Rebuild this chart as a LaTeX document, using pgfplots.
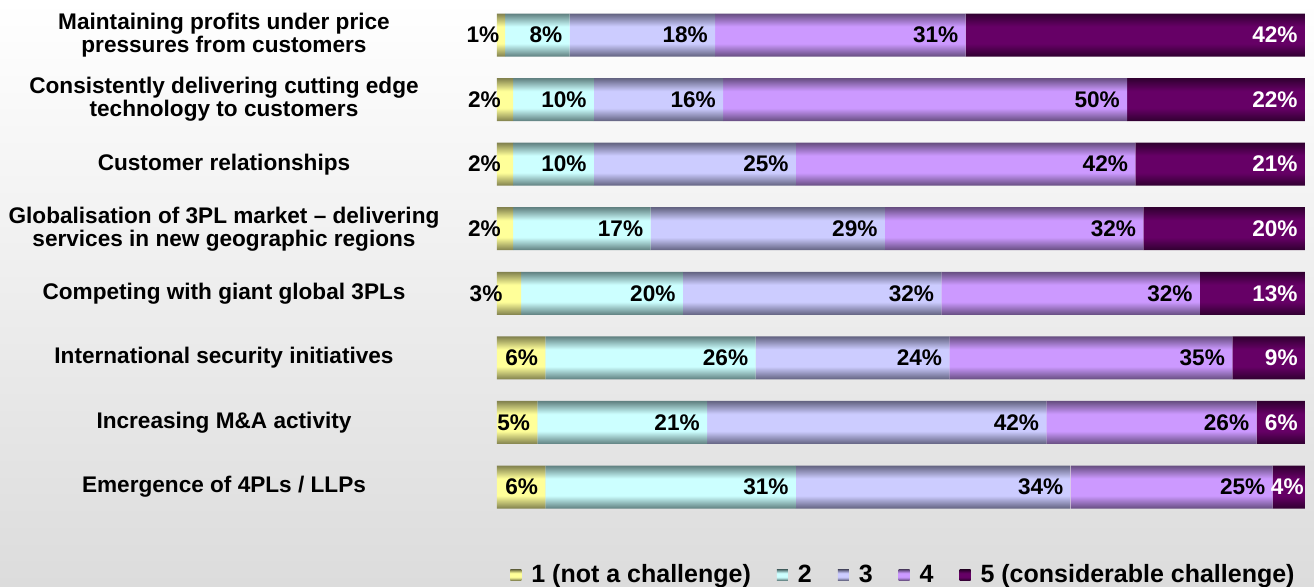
\documentclass[border=0pt]{standalone}
\usepackage{fontspec}
\setmainfont{Liberation Sans}
\usepackage{pgfplots}
\pgfplotsset{compat=1.18}
\usepackage{pgfplotstable}

% edge / middle colours of the bar gradients
\definecolor{eA}{RGB}{128,128,77}  \definecolor{mA}{RGB}{255,255,153}
\definecolor{eB}{RGB}{95,127,127}  \definecolor{mB}{RGB}{204,255,255}
\definecolor{eC}{RGB}{98,98,128}   \definecolor{mC}{RGB}{204,204,255}
\definecolor{eD}{RGB}{102,77,128}  \definecolor{mD}{RGB}{204,153,255}
\definecolor{eE}{RGB}{48,0,48}     \definecolor{mE}{RGB}{102,0,102}

% one series is one path, so the shading repeats the bar gradient for all 8 rows
% (path box = middle 50bp; bar = 4.3433bp, row pitch = 6.5226bp)
\newcommand\barshading[3]{%
  \def\shspec{color(0bp)=(#2)}%
  \foreach \k in {0,...,7}{%
    \pgfmathsetmacro\sa{25+\k*6.5226}%
    \pgfmathsetmacro\sb{\sa+1.303}%
    \pgfmathsetmacro\sc{\sa+3.040}%
    \pgfmathsetmacro\sd{min(\sa+4.3433,75)}%
    \xdef\shspec{\shspec; color(\sa bp)=(#2); color(\sb bp)=(#3); color(\sc bp)=(#3); color(\sd bp)=(#2)}%
  }%
  \edef\tmp{\noexpand\pgfdeclareverticalshading{#1}{100bp}{\shspec; color(100bp)=(#2)}}%
  \tmp}
\barshading{shA}{eA}{mA}
\barshading{shB}{eB}{mB}
\barshading{shC}{eC}{mC}
\barshading{shD}{eD}{mD}
\barshading{shE}{eE}{mE}

% single gradient for the legend squares
\newcommand\keyshading[3]{%
  \pgfdeclareverticalshading{#1}{100bp}{color(0bp)=(#2); color(25bp)=(#2); color(40bp)=(#3); color(60bp)=(#3); color(75bp)=(#2); color(100bp)=(#2)}}
\keyshading{lA}{eA}{mA}
\keyshading{lB}{eB}{mB}
\keyshading{lC}{eC}{mC}
\keyshading{lD}{eD}{mD}
\keyshading{lE}{eE}{mE}

\newcommand\labfont{\fontsize{11.3}{11.5}\selectfont\bfseries}
\newcommand\legfont{\fontsize{12.5}{14}\selectfont\bfseries}

% share of answers per score, rows top to bottom
\pgfplotstableread{
row a  b  c  d  e
1   1  8  18 31 42
2   2  10 16 50 22
3   2  10 25 42 21
4   2  17 29 32 20
5   3  20 32 32 13
6   6  26 24 35 9
7   5  21 42 26 6
8   6  31 34 25 4
}\survey

\pgfplotsset{
  segment/.style 2 args={shade, shading=#1, draw=none, forget plot,
    visualization depends on={\thisrow{#2} \as \vv}},
}

\begin{document}
\begin{tikzpicture}
\shade[top color=white, bottom color={rgb,255:red,220;green,220;blue,220}] (0,0) rectangle (657pt,293pt);
\begin{axis}[
    at={(248.5pt,33.35pt)}, anchor=south west,
    scale only axis, width=404pt, height=258.3pt,
    xbar stacked, bar width=21.5pt,
    xmin=0, xmax=100, ymin=0.5, ymax=8.5, y dir=reverse,
    axis line style={draw=none}, tick style={draw=none},
    xtick=\empty, ytick={1,...,8},
    yticklabels={
        {Maintaining profits under price\\pressures from customers},
        {Consistently delivering cutting edge\\technology to customers},
        {Customer relationships},
        {Globalisation of 3PL market -- delivering\\services in new geographic regions},
        {Competing with giant global 3PLs},
        {International security initiatives},
        {Increasing M\&A activity},
        {Emergence of 4PLs / LLPs}},
    yticklabel style={anchor=center, align=center, xshift=-136.5pt, font=\labfont},
    clip=false,
    point meta=explicit symbolic,
    nodes near coords={\pgfplotspointmeta\%},
    % nodes sit mid-segment: move them to the segment end (tiny ones go left of the bar)
    every node near coord/.append style={anchor=east, inner sep=0pt, font=\labfont,
        xshift={(\vv<4 ? 0.5-1.22*\vv : (\vv<5 ? 2.02*\vv-0.5 : 2.02*\vv-3.5))*1pt}},
    legend columns=-1,
    legend style={at={(0.9876,-0.108)}, anchor=east, draw=none, fill=none, inner sep=0pt,
        nodes={inner sep=0pt}, font=\legfont,
        /tikz/every odd column/.append style={column sep=5pt},
        /tikz/every even column/.append style={column sep=13pt}},
    legend image code/.code={\path[#1] (0pt,-2.6pt) rectangle (5.5pt,2.6pt);},
]
\addplot[segment={shA}{a}] table[x=a, y=row, meta=a] {\survey};
\addplot[segment={shB}{b}] table[x=b, y=row, meta=b] {\survey};
\addplot[segment={shC}{c}] table[x=c, y=row, meta=c] {\survey};
\addplot[segment={shD}{d}] table[x=d, y=row, meta=d] {\survey};
\addplot[segment={shE}{e}, every node near coord/.append style={text=white}]
    table[x=e, y=row, meta=e] {\survey};
\addlegendimage{shade, shading=lA, draw=none}
\addlegendimage{shade, shading=lB, draw=none}
\addlegendimage{shade, shading=lC, draw=none}
\addlegendimage{shade, shading=lD, draw=none}
\addlegendimage{shade, shading=lE, draw=none}
\legend{1 (not a challenge),2,3,4,5 (considerable challenge)}
\end{axis}
\pgfresetboundingbox
\path[use as bounding box] (0,0) rectangle (657pt,293pt);
\end{tikzpicture}
\end{document}
